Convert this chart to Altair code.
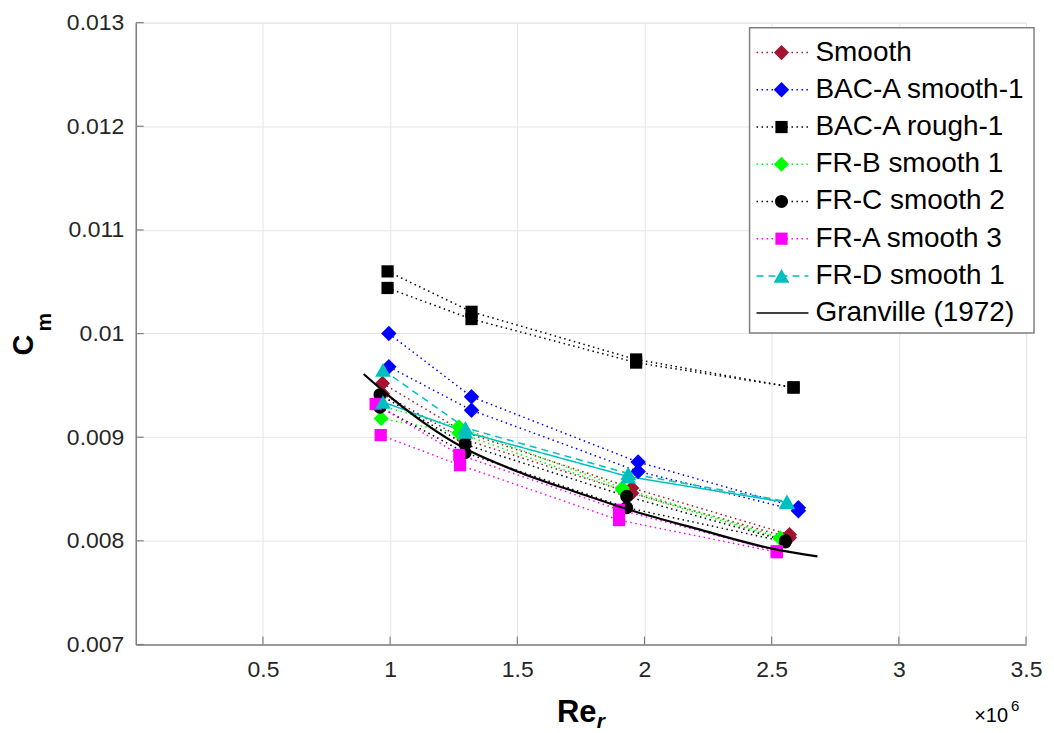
import altair as alt
import pandas as pd

# ---------------- data ----------------
series_names = ["Smooth", "BAC-A smooth-1", "BAC-A rough-1", "FR-B smooth 1",
                "FR-C smooth 2", "FR-A smooth 3", "FR-D smooth 1", "Granville (1972)"]
series_colors = ["#A2142F", "#0000FF", "#000000", "#00FF00",
                 "#000000", "#FF00FF", "#00BFBF", "#000000"]
marker_shapes = ["diamond", "diamond", "square", "diamond",
                 "circle", "square", "triangle-up"]
marker_sizes = [230, 240, 150, 230, 170, 150, 250]
line_styles = ["dot", "dot", "dot", "dot", "dot", "dot", "dash", "solid"]

# Re_r values are in units of 1e6
smooth_x = [0.97, 1.29, 1.95, 2.57]
smooth_y1 = [0.00952, 0.00905, 0.00851, 0.00806]
smooth_y2 = [0.00942, 0.00898, 0.00846, 0.00803]

bacs_x = [0.995, 1.32, 1.975, 2.605]
bacs_y1 = [0.01000, 0.00939, 0.00876, 0.00832]
bacs_y2 = [0.00968, 0.00926, 0.00867, 0.00829]

bacr_x = [0.99, 1.32, 1.967, 2.586]
bacr_y1 = [0.01060, 0.01021, 0.00975, 0.00948]
bacr_y2 = [0.01044, 0.01014, 0.00972, 0.00948]

frb_x = [0.965, 1.27, 1.913, 2.534]
frb_y1 = [0.00930, 0.00910, 0.00851, 0.00803]
frb_y2 = [0.00918, 0.00904, 0.00849, 0.00802]

frc_x = [0.96, 1.295, 1.93, 2.554]
frc_y1 = [0.00941, 0.00893, 0.00843, 0.00800]
frc_y2 = [0.00929, 0.00885, 0.00832, 0.00799]

fra_x1 = [0.943, 1.272, 1.90, 2.52]
fra_x2 = [0.963, 1.275, 1.90, 2.52]
fra_y1 = [0.00932, 0.00883, 0.00830, 0.00790]
fra_y2 = [0.00902, 0.00873, 0.00820, 0.00789]

frd_x = [0.972, 1.296, 1.936, 2.56]
frd_y1 = [0.00965, 0.00909, 0.00865, 0.00838]
frd_y2 = [0.00934, 0.00905, 0.00862, 0.00837]

granville_x = [0.896, 1.0, 1.28, 1.5, 1.744, 1.94, 2.2, 2.53, 2.68]
granville_y = [0.00961, 0.00939, 0.00891, 0.00867, 0.00846, 0.00830, 0.00812, 0.00791, 0.00785]

x_ticks = [0.5, 1, 1.5, 2, 2.5, 3, 3.5]
y_ticks = [0.007, 0.008, 0.009, 0.010, 0.011, 0.012, 0.013]

# ---------------- tables ----------------
runs = [
    ("Smooth", smooth_x, smooth_y1, "dot"), ("Smooth", smooth_x, smooth_y2, "dot"),
    ("BAC-A smooth-1", bacs_x, bacs_y1, "dot"), ("BAC-A smooth-1", bacs_x, bacs_y2, "dot"),
    ("BAC-A rough-1", bacr_x, bacr_y1, "dot"), ("BAC-A rough-1", bacr_x, bacr_y2, "dot"),
    ("FR-B smooth 1", frb_x, frb_y1, "dot"), ("FR-B smooth 1", frb_x, frb_y2, "dot"),
    ("FR-C smooth 2", frc_x, frc_y1, "dot"), ("FR-C smooth 2", frc_x, frc_y2, "dot"),
    ("FR-A smooth 3", fra_x1, fra_y1, "dot"), ("FR-A smooth 3", fra_x2, fra_y2, "dot"),
    ("FR-D smooth 1", frd_x, frd_y1, "dash"), ("FR-D smooth 1", frd_x, frd_y2, "solid"),
]
rows = []
for i, (name, xs_, ys_, style) in enumerate(runs):
    k = series_names.index(name)
    for xv, yv in zip(xs_, ys_):
        rows.append({"series": name, "line": f"{name}-{i}", "x": xv, "y": yv,
                     "style": style, "sz": marker_sizes[k], "order": k})
df = pd.DataFrame(rows)
gdf = pd.DataFrame({"x": granville_x, "y": granville_y, "series": "Granville (1972)"})

leg = pd.DataFrame({"series": series_names, "style": line_styles})
leg_pts = pd.DataFrame({"series": series_names[:-1], "sz": marker_sizes})

# ---------------- scales ----------------
FONT = "Liberation Sans"
W, H = 892, 623
xs = alt.Scale(domain=[0, 3.5], nice=False, zero=False)
ys = alt.Scale(domain=[0.007, 0.013], nice=False, zero=False)
color_scale = alt.Scale(domain=series_names, range=series_colors)
shape_scale = alt.Scale(domain=series_names[:-1], range=marker_shapes)
dash_scale = alt.Scale(domain=["dot", "dash", "solid"],
                       range=[[1.5, 3.5], [7, 5], [1, 0]])

x_axis = alt.Axis(values=x_ticks, format=".1~f", title=None, grid=True,
                  ticks=False, tickSize=0, labelPadding=14, labelFontSize=23,
                  labelFont=FONT, labelColor="#262626", domainColor="#7f7f7f",
                  domainWidth=1.5, gridColor="#e6e6e6", labelFlush=False)
y_axis = alt.Axis(values=y_ticks, format=".3~f", title=None, grid=True,
                  ticks=False, tickSize=0, labelPadding=12, labelFontSize=23,
                  labelFont=FONT, labelColor="#262626", domainColor="#7f7f7f",
                  domainWidth=1.5, gridColor="#e6e6e6", labelFlush=False)

X = alt.X("x:Q", scale=xs, axis=x_axis)
Y = alt.Y("y:Q", scale=ys, axis=y_axis)

lines = alt.Chart(df).mark_line(strokeWidth=1.5).encode(
    x=X, y=Y,
    color=alt.Color("series:N", scale=color_scale, legend=None),
    strokeDash=alt.StrokeDash("style:N", scale=dash_scale, legend=None),
    detail="line:N",
)
points = alt.Chart(df).mark_point(filled=True, opacity=1).encode(
    x=X, y=Y,
    color=alt.Color("series:N", scale=color_scale, legend=None),
    shape=alt.Shape("series:N", scale=shape_scale, legend=None),
    size=alt.Size("sz:Q", scale=None),
    order=alt.Order("order:Q"),
)
granville = alt.Chart(gdf).mark_line(strokeWidth=2.2, color="#000000",
                                     interpolate="monotone").encode(x=X, y=Y)

xt = pd.DataFrame({"x": x_ticks})
yt = pd.DataFrame({"y": y_ticks})
xtick_marks = alt.Chart(xt).mark_rule(color="#7f7f7f", strokeWidth=1.2).encode(
    x=X, y=alt.value(H), y2=alt.value(H - 8))
ytick_marks = alt.Chart(yt).mark_rule(color="#7f7f7f", strokeWidth=1.2).encode(
    y=Y, x=alt.value(0), x2=alt.value(8))

main = alt.layer(xtick_marks, ytick_marks, lines, points, granville)

# ---------------- legend ----------------
LY = alt.Y("series:N", scale=alt.Scale(type="point", domain=series_names,
                                        range=[30, 291], padding=0), axis=None)
box = alt.Chart(pd.DataFrame({"a": [0]})).mark_rect(
    fill="white", stroke="#808080", strokeWidth=1.5).encode(
    x=alt.value(615), x2=alt.value(900), y=alt.value(5), y2=alt.value(311))
leg_lines = alt.Chart(leg).mark_rule(strokeWidth=1.5).encode(
    x=alt.value(622), x2=alt.value(674), y=LY,
    color=alt.Color("series:N", scale=color_scale, legend=None),
    strokeDash=alt.StrokeDash("style:N", scale=dash_scale, legend=None),
)
leg_points = alt.Chart(leg_pts).mark_point(filled=True, opacity=1).encode(
    x=alt.value(647), y=LY,
    color=alt.Color("series:N", scale=color_scale, legend=None),
    shape=alt.Shape("series:N", scale=shape_scale, legend=None),
    size=alt.Size("sz:Q", scale=None),
)
leg_text = alt.Chart(leg).mark_text(align="left", baseline="middle", fontSize=28,
                                    font=FONT, color="#000000").encode(
    x=alt.value(681), y=LY, text="series:N")

def label(txt, x, y, size, bold=True, angle=0, italic=False, align="center",
          baseline="middle"):
    kw = dict(text=txt, fontSize=size, font=FONT, color="#000000",
              fontWeight="bold" if bold else "normal", align=align,
              baseline=baseline)
    if angle:
        kw["angle"] = angle
    if italic:
        kw["fontStyle"] = "italic"
    return alt.Chart(pd.DataFrame({"a": [0]})).mark_text(**kw).encode(
        x=alt.value(x), y=alt.value(y))

titles = [
    label("C", -112, 323, 29, angle=270),
    label("m", -91, 300, 21, angle=270),
    label("Re", 422, 701, 31, align="left", baseline="alphabetic"),
    label("r", 462, 707, 21, italic=True, align="left", baseline="alphabetic"),
    label("×10", 840, 701, 20, bold=False, align="left", baseline="alphabetic"),
    label("6", 877, 690, 15, bold=False, align="left", baseline="alphabetic"),
]

legend_layer = alt.layer(box, leg_lines, leg_points, leg_text, *titles)

chart = alt.layer(main, legend_layer).resolve_scale(y="independent").properties(
    width=W, height=H,
    autosize=alt.AutoSizeParams(type="none"),
    padding={"left": 128, "top": 14, "right": 20, "bottom": 86},
).configure_view(stroke=None).configure(background="white")

chart.save("out.html", embed_options={"renderer": "svg", "actions": False})
